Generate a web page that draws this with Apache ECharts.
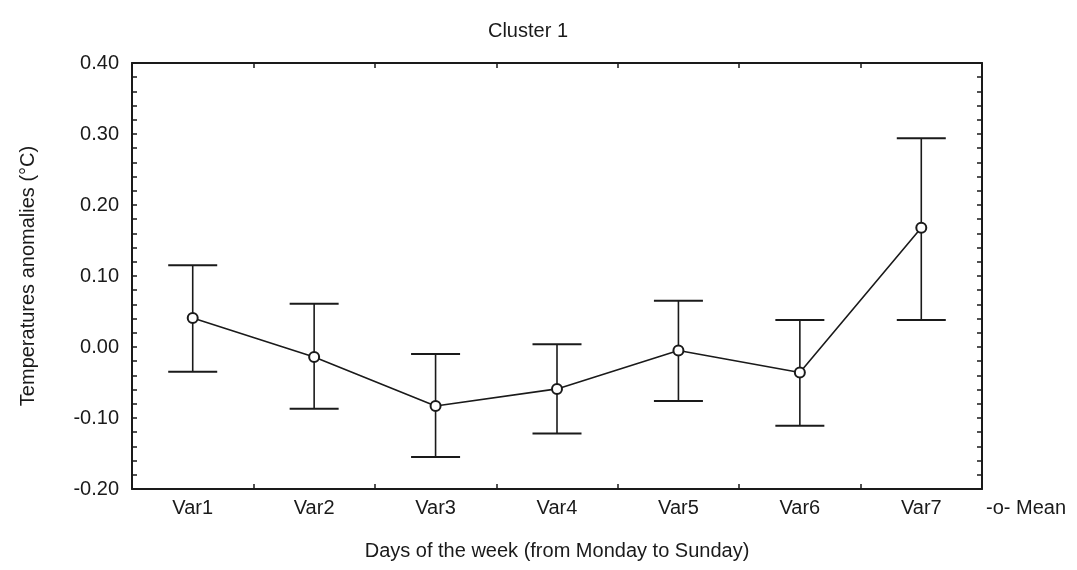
<!DOCTYPE html>
<html>
<head>
<meta charset="utf-8">
<script src="https://cdn.jsdelivr.net/npm/echarts@6/dist/echarts.min.js"></script>
<style>
html,body{margin:0;padding:0;background:#fff;}
#chart{width:1077px;height:570px;}
</style>
</head>
<body>
<div id="chart"></div>
<script>
var categories = ['Var1','Var2','Var3','Var4','Var5','Var6','Var7'];
var means = [0.041, -0.014, -0.083, -0.059, -0.005, -0.036, 0.168];
var upper = [0.115, 0.061, -0.010, 0.004, 0.065, 0.038, 0.294];
var lower = [-0.035, -0.087, -0.155, -0.122, -0.076, -0.111, 0.038];
var yTicks = [-0.20, -0.10, 0.00, 0.10, 0.20, 0.30, 0.40];

var ink = '#1a1a1a';
var font = 'Liberation Sans, Arial, sans-serif';

var errData = categories.map(function (c, i) { return [i, lower[i], upper[i]]; });

var chart = echarts.init(document.getElementById('chart'));
chart.setOption({
  backgroundColor: '#fff',
  animation: false,
  title: {
    text: 'Cluster 1',
    left: 523, top: 16, textAlign: 'center',
    textStyle: { fontFamily: font, fontSize: 20, fontWeight: 'normal', color: ink }
  },
  grid: { left: 132, right: 95, top: 63, bottom: 81 },
  xAxis: [{
    type: 'category',
    data: categories,
    boundaryGap: true,
    position: 'bottom',
    name: 'Days of the week (from Monday to Sunday)',
    nameLocation: 'middle',
    nameGap: 52,
    nameTextStyle: { fontFamily: font, fontSize: 20, color: ink },
    axisLine: { show: true, onZero: false, lineStyle: { color: ink, width: 2 } },
    axisTick: { show: true, inside: true, length: 5, alignWithLabel: false, lineStyle: { color: ink, width: 1.5 } },
    axisLabel: { fontFamily: font, fontSize: 20, color: ink, margin: 9 },
    splitLine: { show: false }
  }, {
    type: 'category',
    data: categories,
    boundaryGap: true,
    position: 'top',
    axisLine: { show: true, onZero: false, lineStyle: { color: ink, width: 2 } },
    axisTick: { show: true, inside: true, length: 5, lineStyle: { color: ink, width: 1.5 } },
    axisLabel: { show: false },
    splitLine: { show: false }
  }],
  yAxis: [{
    type: 'value',
    min: -0.2, max: 0.4, interval: 0.1,
    position: 'left',
    name: 'Temperatures anomalies (°C)',
    nameLocation: 'middle',
    nameGap: 94,
    nameTextStyle: { fontFamily: font, fontSize: 20, color: ink },
    axisLine: { show: true, onZero: false, lineStyle: { color: ink, width: 2 } },
    axisTick: { show: true, inside: true, length: 5, lineStyle: { color: ink, width: 1.5 } },
    minorTick: { show: true, splitNumber: 5, length: 5, lineStyle: { color: ink, width: 1.5 } },
    axisLabel: {
      fontFamily: font, fontSize: 20, color: ink, margin: 13,
      formatter: function (v) { return v.toFixed(2); }
    },
    splitLine: { show: false }
  }, {
    type: 'value',
    min: -0.2, max: 0.4, interval: 0.1,
    position: 'right',
    axisLine: { show: true, onZero: false, lineStyle: { color: ink, width: 2 } },
    axisTick: { show: true, inside: true, length: 5, lineStyle: { color: ink, width: 1.5 } },
    minorTick: { show: true, splitNumber: 5, length: 5, lineStyle: { color: ink, width: 1.5 } },
    axisLabel: { show: false },
    splitLine: { show: false }
  }],
  graphic: [{
    type: 'text',
    left: 986, top: 498,
    style: { text: '-o- Mean', fontFamily: font, fontSize: 20, fill: ink }
  }],
  series: [{
    type: 'custom',
    name: 'err',
    xAxisIndex: 0, yAxisIndex: 0,
    z: 2,
    data: errData,
    encode: { x: 0, y: [1, 2] },
    renderItem: function (params, api) {
      var x = api.value(0);
      var lo = api.coord([x, api.value(1)]);
      var hi = api.coord([x, api.value(2)]);
      var w = 24.5;
      var st = { stroke: ink, lineWidth: 1.6 };
      var st2 = { stroke: ink, lineWidth: 2 };
      return {
        type: 'group',
        children: [
          { type: 'line', shape: { x1: lo[0], y1: lo[1], x2: hi[0], y2: hi[1] }, style: st },
          { type: 'line', shape: { x1: hi[0] - w, y1: hi[1], x2: hi[0] + w, y2: hi[1] }, style: st2 },
          { type: 'line', shape: { x1: lo[0] - w, y1: lo[1], x2: lo[0] + w, y2: lo[1] }, style: st2 }
        ]
      };
    }
  }, {
    type: 'line',
    name: 'Mean',
    xAxisIndex: 0, yAxisIndex: 0,
    z: 3,
    data: means,
    symbol: 'emptyCircle',
    symbolSize: 10,
    lineStyle: { color: ink, width: 1.6 },
    itemStyle: { color: ink, borderColor: ink, borderWidth: 1.6 }
  }]
});
</script>
</body>
</html>
